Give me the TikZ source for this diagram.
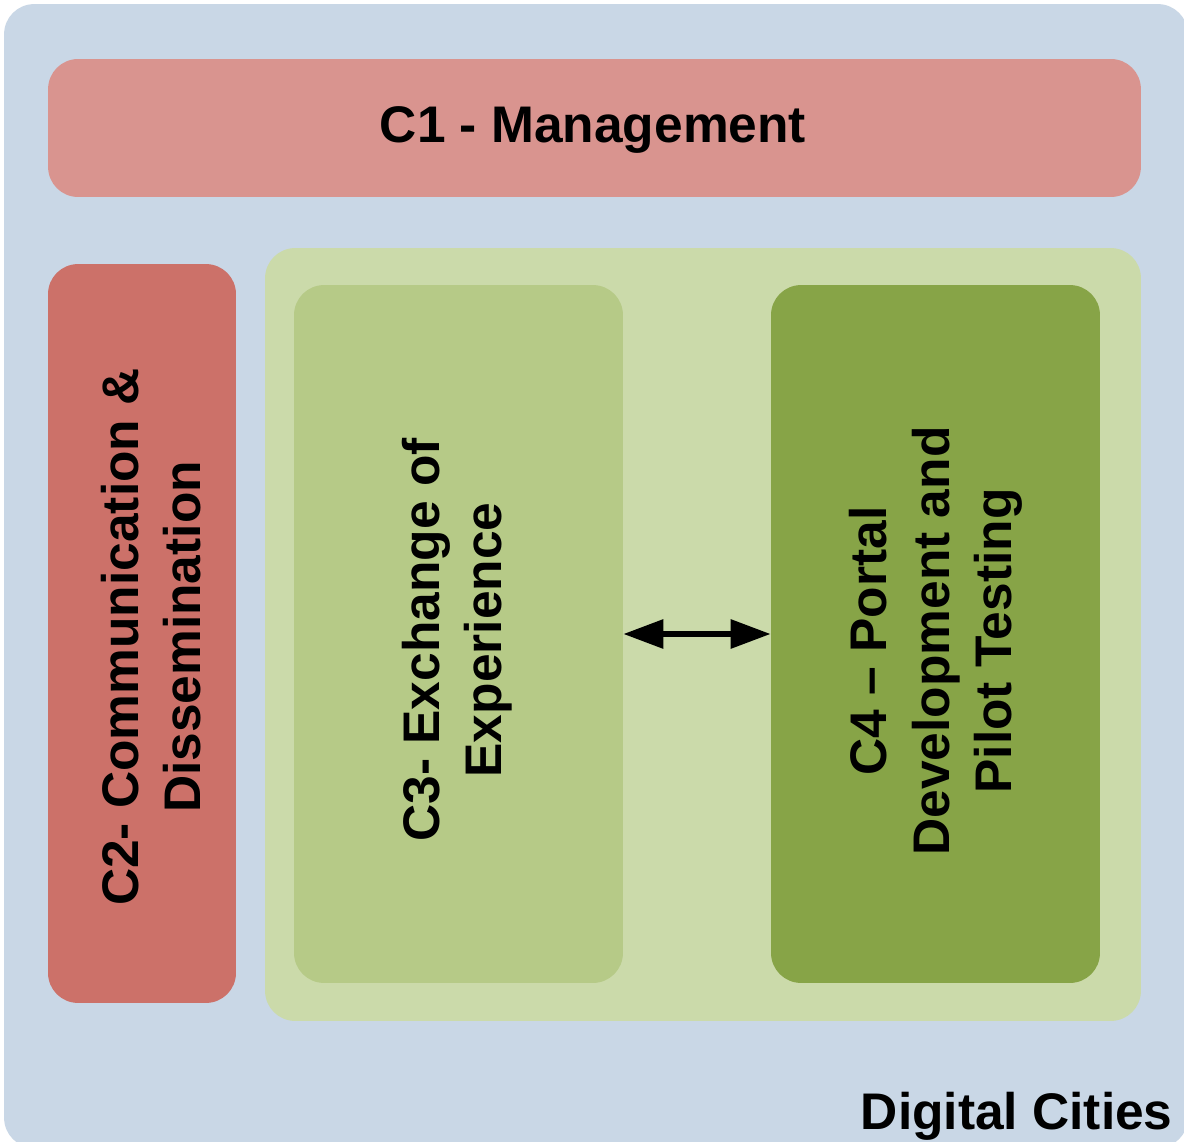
\documentclass[tikz,border=0pt]{standalone}
\usepackage{fontspec}
\setmainfont{Liberation Sans}
\usetikzlibrary{arrows.meta}
\definecolor{outerblue}{HTML}{C9D7E6}
\definecolor{mgmt}{HTML}{D9948F}
\definecolor{comm}{HTML}{CC7169}
\definecolor{gcont}{HTML}{CBDAAA}
\definecolor{exch}{HTML}{B6CA87}
\definecolor{portal}{HTML}{87A447}
\tikzset{
  box/.style={rectangle, rounded corners=0.6cm, inner sep=0pt, draw=none},
  lbl/.style={font=\fontsize{29.3}{35.5}\selectfont\bfseries, align=center, inner sep=0pt, text=black},
  vlbl/.style={lbl, rotate=90},
}
\begin{document}
\begin{tikzpicture}[x=0.02cm,y=-0.02cm]
\useasboundingbox (0,0) rectangle (1184,1142);
\clip (0,0) rectangle (1184,1142);
\fill[white] (0,0) rectangle (1184,1142);
\node[box, fill=outerblue, minimum width=23.68cm, minimum height=22.88cm] (outer) at (596,576) {};
\node[box, fill=mgmt, minimum width=21.86cm, minimum height=2.76cm] (c1) at (594.5,128) {};
\node[lbl] (c1t) at (593,130) {C1 - Management};
\node[box, fill=comm, minimum width=3.76cm, minimum height=14.78cm] (c2) at (142,633.5) {};
\node[vlbl] (c2t) at (151,637) {C2- Communication \&\\Dissemination};
\node[box, fill=gcont, minimum width=17.52cm, minimum height=15.46cm] (grp) at (703,634.5) {};
\node[box, fill=exch, minimum width=6.58cm, minimum height=13.96cm] (c3) at (458.5,634) {};
\node[vlbl] (c3t) at (457,640) {C3- Exchange of\\Experience};
\node[box, fill=portal, minimum width=6.58cm, minimum height=13.96cm] (c4) at (935.5,634) {};
\node[vlbl] (c4t) at (936,641) {C4 -- Portal\\Development and\\Pilot Testing};
\draw[line width=3.4pt, {Triangle[length=0.8cm,width=0.56cm]}-{Triangle[length=0.8cm,width=0.56cm]}] (c3.east) -- (c4.west);
\node[lbl, anchor=south east] (dc) at (1173,1141) {Digital Cities};
\end{tikzpicture}
\end{document}
